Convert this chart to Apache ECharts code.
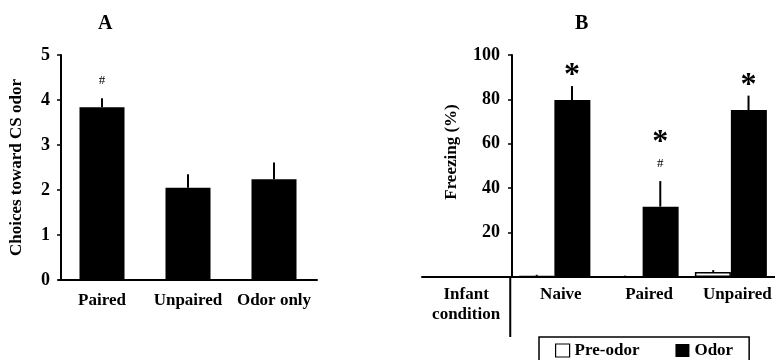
<!DOCTYPE html>
<html>
<head>
<meta charset="utf-8">
<script src="https://cdn.jsdelivr.net/npm/echarts@6/dist/echarts.min.js"></script>
<style>html,body{margin:0;padding:0;background:#fff}#c{width:775px;height:360px}</style>
</head>
<body>
<div id="c"></div>
<script>
// Panel A
const catsA = ['Paired', 'Unpaired', 'Odor only'];
const valuesA = [3.84, 2.05, 2.24];
const errTopA = [4.04, 2.35, 2.61];
const marksA = ['#', '', ''];
const ticksA = [0, 1, 2, 3, 4, 5];

// Panel B
const catsB = ['Infant\ncondition', 'Naive', 'Paired', 'Unpaired'];
const preOdor = [null, 0.5, 0.3, 2.2];
const preOdorErrTop = [null, 1.0, 0.6, 3.1];
const odor = [null, 79.7, 31.7, 75.2];
const odorErrTop = [null, 86, 43.2, 81.7];
const marksB = [[], ['*'], ['#', '*'], ['*']];
const ticksB = [20, 40, 60, 80, 100];

const FF = '"Liberation Serif", "Times New Roman", serif';

function errSeries(xi, yi, vals, tops, frac, marks) {
  const data = [];
  vals.forEach((v, i) => { if (v != null) data.push([i, v, tops[i]]); });
  return {
    type: 'custom', xAxisIndex: xi, yAxisIndex: yi, silent: true, z: 5,
    data: data,
    renderItem: function (params, api) {
      const cat = api.value(0), v = api.value(1), top = api.value(2);
      const band = api.size([1, 0])[0];
      const dx = band * frac;
      const p0 = api.coord([cat, v]);
      const p1 = api.coord([cat, top]);
      const x = p0[0] + dx;
      const children = [{
        type: 'line',
        shape: { x1: x, y1: p0[1], x2: x, y2: p1[1] },
        style: { stroke: '#000', lineWidth: 2 }
      }];
      const m = marks ? marks[cat] : null;
      if (m) {
        const list = Array.isArray(m) ? m : [m];
        let y = p1[1];
        list.forEach((t) => {
          if (!t) return;
          if (t === '#') {
            y -= 18;
            children.push({ type: 'text', style: { text: '#', x: x, y: y, align: 'center', verticalAlign: 'middle', fontFamily: FF, fontSize: 13, fill: '#000' } });
            y -= 10;
          } else {
            y -= 8;
            children.push({ type: 'text', style: { text: '*', x: x, y: y + 14, align: 'center', verticalAlign: 'bottom', fontFamily: FF, fontWeight: 'bold', fontSize: 32, fill: '#000' } });
          }
        });
      }
      return { type: 'group', children: children };
    }
  };
}

// vertical separator under panel B's axis, at the boundary before the first group
const separatorSeries = {
  type: 'custom', xAxisIndex: 1, yAxisIndex: 1, silent: true, z: 5, clip: false,
  data: [[1, 0]],
  renderItem: function (params, api) {
    const band = api.size([1, 0])[0];
    const p = api.coord([api.value(0), api.value(1)]);
    const x = p[0] - band / 2;
    return { type: 'line', shape: { x1: x, y1: p[1], x2: x, y2: p[1] + 60 }, style: { stroke: '#000', lineWidth: 2 } };
  }
};

const chart = echarts.init(document.getElementById('c'), null, { renderer: 'canvas' });
const bold = { fontFamily: FF, fontWeight: 'bold', color: '#000' };

chart.setOption({
  animation: false,
  backgroundColor: '#fff',
  title: [
    { text: 'A', left: 98, top: 14, padding: 0, textStyle: { fontFamily: FF, fontWeight: 'bold', fontSize: 20, color: '#000' } },
    { text: 'B', left: 575, top: 14, padding: 0, textStyle: { fontFamily: FF, fontWeight: 'bold', fontSize: 20, color: '#000' } }
  ],
  legend: {
    left: 539, top: 337,
    orient: 'horizontal',
    padding: [5, 16, 5, 16],
    borderColor: '#000', borderWidth: 1.5,
    itemWidth: 14, itemHeight: 13, itemGap: 36,
    icon: 'rect',
    textStyle: { fontFamily: FF, fontWeight: 'bold', fontSize: 17, color: '#000' },
    data: [
      { name: 'Pre-odor', itemStyle: { color: '#fff', borderColor: '#000', borderWidth: 1.2 } },
      { name: 'Odor', itemStyle: { color: '#000' } }
    ]
  },
  grid: [
    { left: 59, top: 55, width: 258, height: 225 },
    { left: 422, top: 55, width: 360, height: 222 }
  ],
  xAxis: [
    {
      gridIndex: 0, type: 'category', data: catsA,
      axisLine: { lineStyle: { color: '#000', width: 2 } },
      axisTick: { show: false },
      axisLabel: Object.assign({ fontSize: 17, margin: 12, interval: 0, hideOverlap: false }, bold)
    },
    {
      gridIndex: 1, type: 'category', data: catsB,
      axisLine: { lineStyle: { color: '#000', width: 2 } },
      axisTick: { show: false },
      axisLabel: Object.assign({
        fontSize: 17, margin: 8, lineHeight: 20, interval: 0, hideOverlap: false,
        formatter: function (v, i) { return i === 0 ? v : '{g|' + v + '}'; },
        rich: { g: { fontFamily: FF, fontWeight: 'bold', fontSize: 17, color: '#000', padding: [0, 0, 0, 13] } }
      }, bold)
    }
  ],
  yAxis: [
    {
      gridIndex: 0, type: 'value', min: ticksA[0], max: ticksA[ticksA.length - 1], interval: 1,
      offset: -2,
      axisLine: { show: true, lineStyle: { color: '#000', width: 2 } },
      axisTick: { show: true, length: 4, lineStyle: { color: '#000', width: 1.5 } },
      splitLine: { show: false },
      axisLabel: Object.assign({ fontSize: 18, margin: 11 }, bold),
      name: 'Choices toward CS odor', nameLocation: 'middle', nameGap: 36,
      nameTextStyle: Object.assign({ fontSize: 17 }, bold)
    },
    {
      gridIndex: 1, type: 'value', min: 0, max: ticksB[ticksB.length - 1], interval: 20,
      offset: -90,
      axisLine: { show: true, lineStyle: { color: '#000', width: 2 } },
      axisTick: { show: true, length: 4, lineStyle: { color: '#000', width: 1.5 } },
      splitLine: { show: false },
      axisLabel: Object.assign({ fontSize: 18, margin: 12, formatter: function (v) { return ticksB.indexOf(v) >= 0 ? String(v) : ''; } }, bold),
      name: 'Freezing (%)', nameLocation: 'middle', nameGap: 52,
      nameTextStyle: Object.assign({ fontSize: 17, padding: [0, 0, 0, 28] }, bold)
    }
  ],
  series: [
    {
      name: 'A', type: 'bar', xAxisIndex: 0, yAxisIndex: 0, data: valuesA,
      barWidth: 45, itemStyle: { color: '#000' }
    },
    errSeries(0, 0, valuesA, errTopA, 0, marksA),
    {
      name: 'Pre-odor', type: 'bar', xAxisIndex: 1, yAxisIndex: 1, data: preOdor,
      barWidth: 36, barGap: '0%',
      itemStyle: { color: '#fff', borderColor: '#000', borderWidth: 1.5 }
    },
    {
      name: 'Odor', type: 'bar', xAxisIndex: 1, yAxisIndex: 1, data: odor,
      barWidth: 36, barGap: '0%',
      itemStyle: { color: '#000' }
    },
    errSeries(1, 1, preOdor, preOdorErrTop, -0.2, null),
    errSeries(1, 1, odor, odorErrTop, 0.2, marksB),
    separatorSeries
  ]
});
</script>
</body>
</html>
